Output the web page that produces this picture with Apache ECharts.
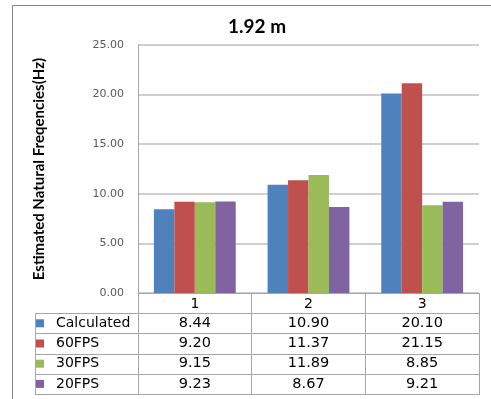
<!DOCTYPE html>
<html>
<head>
<meta charset="utf-8">
<script src="https://cdn.jsdelivr.net/npm/echarts@6/dist/echarts.min.js"></script>
<style>
  html, body { margin: 0; padding: 0; background: #fff; }
  #chart { width: 491px; height: 399px; }
</style>
</head>
<body>
<div id="chart"></div>
<script>
// Natural frequency estimates at 1.92 m, per mode
const categories = ['1', '2', '3'];
const seriesNames = ['Calculated', '60FPS', '30FPS', '20FPS'];
const calculated = [8.44, 10.90, 20.10];
const fps60 = [9.20, 11.37, 21.15];
const fps30 = [9.15, 11.89, 8.85];
const fps20 = [9.23, 8.67, 9.21];
const yTicks = { min: 0, max: 25, step: 5 };

const seriesData = [calculated, fps60, fps30, fps20];
const colors = ['#4F81BD', '#C0504D', '#9BBB59', '#8064A2'];

// plot area geometry (pixels)
const G = { left: 138, top: 45, right: 479, bottom: 293 };
const rowH = 20.2;
const tableLeft = 35;
const lineColor = '#A6A6A6';
const tableFont = '"DejaVu Sans", Verdana, sans-serif';

const chart = echarts.init(document.getElementById('chart'), null, { renderer: 'canvas' });

function buildTable() {
  const els = [];
  const colW = (G.right - G.left) / categories.length;
  const headerBottom = G.bottom + rowH;
  const tableBottom = headerBottom + rowH * seriesNames.length;

  // horizontal row lines
  for (let r = 0; r <= seriesNames.length; r++) {
    const y = Math.round(headerBottom + r * rowH) + 0.5;
    els.push({ type: 'line', shape: { x1: tableLeft, y1: y, x2: G.right, y2: y },
      style: { stroke: lineColor, lineWidth: 1 }, silent: true });
  }
  // left edge of the legend column
  els.push({ type: 'line', shape: { x1: tableLeft + 0.5, y1: headerBottom, x2: tableLeft + 0.5, y2: tableBottom },
    style: { stroke: lineColor, lineWidth: 1 }, silent: true });

  seriesNames.forEach((name, r) => {
    const cy = headerBottom + r * rowH + rowH / 2;
    els.push({ type: 'rect', shape: { x: 36, y: cy - 4, width: 8, height: 8 },
      style: { fill: colors[r] }, silent: true });
    els.push({ type: 'text', x: 56, y: cy,
      style: { text: name, font: '14px ' + tableFont, fill: '#000',
        textAlign: 'left', textVerticalAlign: 'middle' }, silent: true });
    seriesData[r].forEach((v, c) => {
      els.push({ type: 'text', x: G.left + colW * (c + 0.5), y: cy,
        style: { text: v.toFixed(2), font: '14.5px ' + tableFont, fill: '#000',
          textAlign: 'center', textVerticalAlign: 'middle' }, silent: true });
    });
  });

  // outer chart frame
  els.push({ type: 'rect', shape: { x: 12.5, y: 5.5, width: 520, height: 440 },
    style: { fill: 'none', stroke: '#878787', lineWidth: 1 }, silent: true, z: -1 });
  return els;
}

const option = {
  backgroundColor: '#fff',
  animation: false,
  title: {
    text: '1.92 m',
    left: 252,
    top: 12,
    textAlign: 'center',
    textStyle: { fontFamily: 'Lato, "Open Sans", sans-serif', fontWeight: 'bold', fontSize: 19, color: '#000' }
  },
  grid: {
    left: G.left, top: G.top,
    width: G.right - G.left, height: G.bottom - G.top,
    containLabel: false
  },
  xAxis: {
    type: 'category',
    data: categories,
    axisLine: { lineStyle: { color: lineColor, width: 1 } },
    axisTick: { show: true, length: rowH * (seriesNames.length + 1) + 1, lineStyle: { color: lineColor, width: 1 } },
    axisLabel: { color: '#000', fontSize: 14, fontFamily: tableFont, margin: 4 },
    splitLine: { show: false }
  },
  yAxis: {
    type: 'value',
    min: yTicks.min, max: yTicks.max, interval: yTicks.step,
    name: 'Estimated Natural Freqencies(Hz)',
    nameLocation: 'middle',
    nameRotate: 90,
    nameGap: 91,
    nameTextStyle: { fontFamily: '"Liberation Sans Narrow", Lato, sans-serif', fontWeight: 'bold', fontSize: 15, color: '#000' },
    axisLine: { show: true, lineStyle: { color: lineColor, width: 1 } },
    axisTick: { show: false },
    axisLabel: { formatter: v => v.toFixed(2), color: '#595959', fontSize: 11, fontFamily: tableFont, margin: 14 },
    splitLine: { lineStyle: { color: '#BFBFBF', width: 1.5 } }
  },
  series: seriesNames.map((name, i) => ({
    name,
    type: 'bar',
    data: seriesData[i],
    barGap: '0%',
    barCategoryGap: '28%',
    itemStyle: { color: colors[i] }
  })),
  graphic: buildTable()
};

chart.setOption(option);
</script>
</body>
</html>
